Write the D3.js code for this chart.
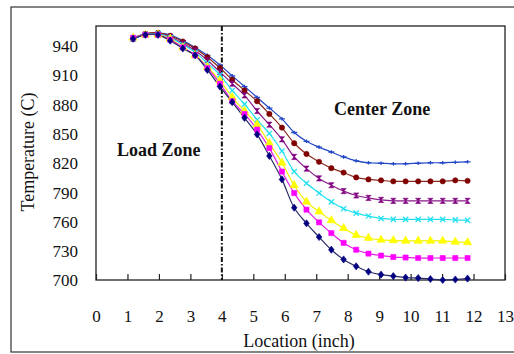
<!DOCTYPE html>
<html>
<head>
<meta charset="utf-8">
<script src="https://cdn.jsdelivr.net/npm/d3@7"></script>
<style>
  html, body { margin: 0; padding: 0; background: #fff; }
  svg { display: block; }
  text { font-family: "Liberation Serif", "Times New Roman", serif; fill: #111; }
</style>
</head>
<body>
<div id="chart"></div>
<script>
// Location of measurement points (inch)
const locations = [1.18, 1.57, 1.97, 2.36, 2.76, 3.15, 3.54, 3.94, 4.33, 4.72, 5.12, 5.51, 5.91, 6.30,
                   6.69, 7.09, 7.48, 7.87, 8.27, 8.66, 9.06, 9.45, 9.84, 10.24, 10.63, 11.02, 11.42, 11.81];

// Temperature (C) series, top to bottom at the right end
const blueVals    = [948, 952, 953, 951, 945, 938, 930, 920, 909, 898, 887, 876, 865, 851, 842, 836, 831, 826, 822, 820, 819.5, 819, 819, 819.5, 820, 820, 820.5, 821];
const darkRedVals = [947, 952, 953, 950, 944, 937, 928, 917, 905, 894, 883, 870, 856, 840, 829, 821, 814.5, 810, 805, 803, 802, 801, 801, 801, 801, 801, 802, 801.5];
const purpleVals  = [947, 951, 952, 949, 942, 935, 925, 913, 901, 889, 873, 859, 844, 826, 814, 804, 797, 791, 786.5, 784, 782, 781, 781, 781, 781, 781, 781, 781];
const cyanVals    = [947, 951, 952, 948, 941, 933, 922, 910, 894, 880, 864, 850, 832, 811, 799, 789, 780, 773, 768.5, 765.5, 763, 762, 762, 762, 762, 762, 761.5, 761];
const yellowVals  = [948, 951, 951, 947, 938, 930, 918, 904, 887, 873, 859, 840, 820, 797, 780, 770, 761, 753, 746, 743, 741, 740.5, 740, 740, 740, 740, 739, 738.5];
const magentaVals = [948, 951, 951, 946, 938, 930, 917, 901, 883, 870, 854, 835, 811, 789, 772, 759, 748, 738, 731, 727, 725, 723.5, 723, 722.5, 722.5, 722.5, 722.5, 722.5];
const navyVals    = [947, 951, 951, 945, 937, 930, 915, 898, 882, 866, 849, 827, 803, 774, 758, 744, 731, 721, 714, 708.5, 705.5, 704, 702.5, 702, 701, 700, 700.5, 701.5];

const xTicks = [0, 1, 2, 3, 4, 5, 6, 7, 8, 9, 10, 11, 12, 13];
const yTicks = [700, 730, 760, 790, 820, 850, 880, 910, 940];
const zoneBoundary = 4;

const seriesList = [
  { values: blueVals,    color: "#2347c6", line: "#2347c6", symbol: "plus" },
  { values: darkRedVals, color: "#800000", line: "#8a2a1a", symbol: "circle" },
  { values: purpleVals,  color: "#800080", line: "#8a1a8a", symbol: "hourglass" },
  { values: cyanVals,    color: "#22e0f0", line: "#22e0f0", symbol: "x" },
  { values: yellowVals,  color: "#ffff00", line: "#f2f200", symbol: "triangle" },
  { values: magentaVals, color: "#ff00ff", line: "#e020e0", symbol: "square" },
  { values: navyVals,    color: "#000080", line: "#2a2a6a", symbol: "diamond" }
];

const W = 514, H = 354;
const svg = d3.select("#chart").append("svg").attr("width", W).attr("height", H);

// outer border
svg.append("rect").attr("x", 11).attr("y", 7).attr("width", 520).attr("height", 345)
  .attr("fill", "#fff").attr("stroke", "#333").attr("stroke-width", 1.2);

const x = d3.scaleLinear().domain([0, 13]).range([96, 505]);
const y = d3.scaleLinear().domain([700, 960]).range([280, 26]);

// plot frame
svg.append("rect").attr("x", x(0)).attr("y", y(960))
  .attr("width", x(13) - x(0)).attr("height", y(700) - y(960))
  .attr("fill", "#fff").attr("stroke", "#222").attr("stroke-width", 1.3);

// x axis
const xAxis = svg.append("g").attr("transform", `translate(0,${y(700)})`)
  .call(d3.axisBottom(x).tickValues(xTicks).tickSizeInner(-6).tickSizeOuter(0).tickPadding(0).tickFormat(d3.format("d")));
xAxis.select(".domain").remove();
xAxis.selectAll(".tick line").attr("stroke", "#222").attr("stroke-width", 1.2);
xAxis.selectAll(".tick text").attr("y", 42).attr("dy", 0).style("font-size", "17px");

// y axis
const yAxis = svg.append("g").attr("transform", `translate(${x(0)},0)`)
  .call(d3.axisLeft(y).tickValues(yTicks).tickSize(0).tickPadding(18).tickFormat(d3.format("d")));
yAxis.select(".domain").remove();
yAxis.selectAll(".tick text").attr("dy", "0.35em").style("font-size", "17px");

// zone divider
svg.append("line").attr("x1", x(zoneBoundary)).attr("x2", x(zoneBoundary))
  .attr("y1", y(960)).attr("y2", y(700))
  .attr("stroke", "#111").attr("stroke-width", 2).attr("stroke-dasharray", "5,2,1.5,2");

// series
const line = d3.line().x((d, i) => x(locations[i])).y(d => y(d)).curve(d3.curveCatmullRom.alpha(0.5));

const symbolPath = {
  plus: "M-3,0H3M0,-1.8V1.8",
  x: "M-2.6,-2.6L2.6,2.6M-2.6,2.6L2.6,-2.6",
  hourglass: "M-2.6,-2.6H2.6L-2.6,2.6H2.6Z",
  circle: d3.symbol(d3.symbolCircle, 22)(),
  triangle: d3.symbol(d3.symbolTriangle, 30)(),
  square: d3.symbol(d3.symbolSquare, 26)(),
  diamond: "M0,-3.6L2.8,0L0,3.6L-2.8,0Z"
};

seriesList.forEach(s => {
  svg.append("path").datum(s.values).attr("d", line)
    .attr("fill", "none").attr("stroke", s.line).attr("stroke-width", 1.2);
});
seriesList.forEach(s => {
  const open = (s.symbol === "plus" || s.symbol === "x");
  svg.append("g").selectAll("path").data(s.values).join("path")
    .attr("transform", (d, i) => `translate(${x(locations[i])},${y(d)})`)
    .attr("d", symbolPath[s.symbol])
    .attr("fill", open ? "none" : s.color)
    .attr("stroke", s.color)
    .attr("stroke-width", open ? 1.3 : 0.6);
});

// annotations
svg.append("text").attr("x", 117).attr("y", 156).style("font-size", "18px").style("font-weight", "bold").text("Load Zone");
svg.append("text").attr("x", 334).attr("y", 115).style("font-size", "18px").style("font-weight", "bold").text("Center Zone");

// axis titles
svg.append("text").attr("x", 299).attr("y", 347).attr("text-anchor", "middle").style("font-size", "18px").text("Location (inch)");
svg.append("text").attr("transform", "translate(34,152) rotate(-90)").attr("text-anchor", "middle").style("font-size", "18px").text("Temperature (C)");
</script>
</body>
</html>
